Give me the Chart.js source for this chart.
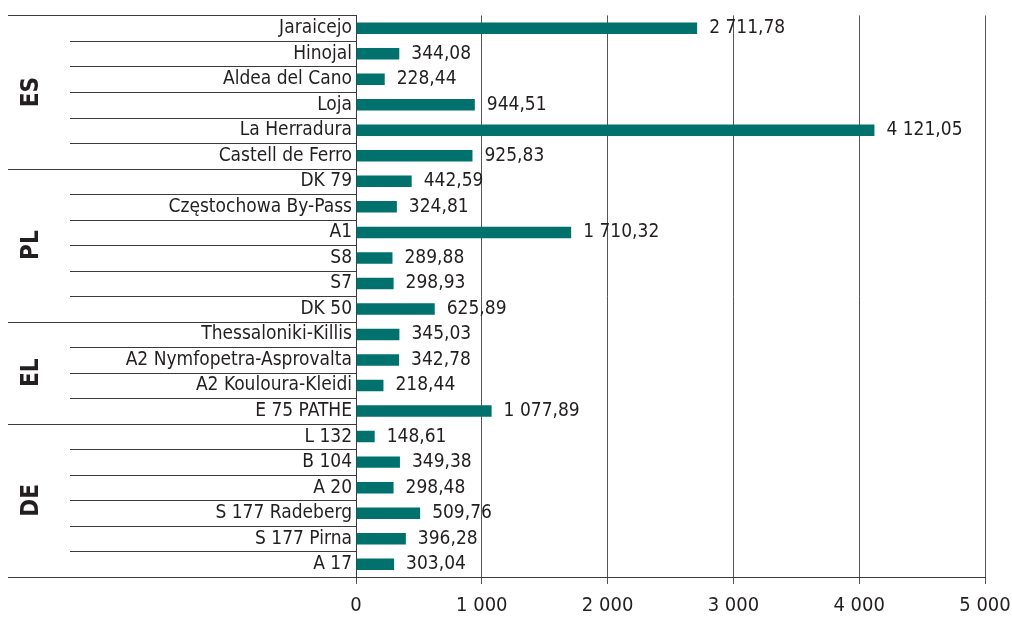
<!DOCTYPE html>
<html>
<head>
<meta charset="utf-8">
<script src="https://cdn.jsdelivr.net/npm/chart.js@4/dist/chart.umd.min.js"></script>
<style>
  html, body { margin: 0; padding: 0; background: #fff; }
  #wrap { width: 1012px; height: 617px; }
</style>
</head>
<body>
<div id="wrap"><canvas id="chart" width="1012" height="617"></canvas></div>
<script>
  // -- Data --
  var categories = [
    'Jaraicejo', 'Hinojal', 'Aldea del Cano', 'Loja', 'La Herradura', 'Castell de Ferro',
    'DK 79', 'Częstochowa By-Pass', 'A1', 'S8', 'S7', 'DK 50',
    'Thessaloniki-Killis', 'A2 Nymfopetra-Asprovalta', 'A2 Kouloura-Kleidi', 'E 75 PATHE',
    'L 132', 'B 104', 'A 20', 'S 177 Radeberg', 'S 177 Pirna', 'A 17'
  ];
  var values = [
    2711.78, 344.08, 228.44, 944.51, 4121.05, 925.83,
    442.59, 324.81, 1710.32, 289.88, 298.93, 625.89,
    345.03, 342.78, 218.44, 1077.89,
    148.61, 349.38, 298.48, 509.76, 396.28, 303.04
  ];
  var groupNames = ['ES', 'PL', 'EL', 'DE'];
  var groupSizes = [6, 6, 4, 6];
  var xTicks = [0, 1000, 2000, 3000, 4000, 5000];

  var FONT = "'Liberation Sans Narrow', 'DejaVu Sans Condensed', 'Roboto Condensed', sans-serif";
  var TEXT = '#231f20';
  var LINE = '#3a3a3a';
  var BAR = '#00716d';

  function fmt(v, dec) {
    var s = v.toFixed(dec);
    var parts = s.split('.');
    var intPart = parts[0].replace(/\B(?=(\d{3})+(?!\d))/g, ' ');
    return parts.length > 1 ? intPart + ',' + parts[1] : intPart;
  }

  // -- Separator lines + group labels in the label area --
  var groupPlugin = {
    id: 'groups',
    afterDraw: function (chart) {
      var ctx = chart.ctx;
      var y = chart.scales.y;
      var left = chart.chartArea.left;
      ctx.save();
      ctx.strokeStyle = LINE;
      ctx.lineWidth = 1;
      var idx = 0;
      for (var g = 0; g < groupSizes.length; g++) {
        var start = idx, end = idx + groupSizes[g] - 1;
        var top = y.getPixelForValue(start - 0.5);
        var bot = y.getPixelForValue(end + 0.5);
        // group border lines
        ctx.beginPath();
        ctx.moveTo(8, Math.round(top) + 0.5); ctx.lineTo(left, Math.round(top) + 0.5);
        ctx.moveTo(8, Math.round(bot) + 0.5); ctx.lineTo(left, Math.round(bot) + 0.5);
        ctx.stroke();
        // inner category lines
        for (var i = start; i < end; i++) {
          var py = Math.round(y.getPixelForValue(i + 0.5)) + 0.5;
          ctx.beginPath();
          ctx.moveTo(70, py); ctx.lineTo(left, py);
          ctx.stroke();
        }
        // rotated group label
        ctx.save();
        ctx.translate(32, (top + bot) / 2);
        ctx.rotate(-Math.PI / 2);
        ctx.fillStyle = TEXT;
        ctx.font = 'bold 24px ' + FONT;
        ctx.textAlign = 'center';
        ctx.textBaseline = 'middle';
        ctx.fillText(groupNames[g], 0, 0);
        ctx.restore();
        idx = end + 1;
      }
      ctx.restore();
    }
  };

  // -- Value labels at bar ends --
  var valueLabelPlugin = {
    id: 'valueLabels',
    afterDatasetsDraw: function (chart) {
      var ctx = chart.ctx;
      var meta = chart.getDatasetMeta(0);
      ctx.save();
      ctx.fillStyle = TEXT;
      ctx.font = '19px ' + FONT;
      ctx.textAlign = 'left';
      ctx.textBaseline = 'middle';
      meta.data.forEach(function (bar, i) {
        ctx.fillText(fmt(values[i], 2), bar.x + 12, bar.y);
      });
      ctx.restore();
    }
  };

  new Chart(document.getElementById('chart'), {
    type: 'bar',
    data: {
      labels: categories,
      datasets: [{
        data: values,
        backgroundColor: BAR,
        borderWidth: 0,
        barPercentage: 0.45,
        categoryPercentage: 1
      }]
    },
    options: {
      indexAxis: 'y',
      responsive: false,
      animation: false,
      layout: { padding: { top: 15, right: 27, left: 0, bottom: 0 } },
      plugins: {
        legend: { display: false },
        tooltip: { enabled: false }
      },
      scales: {
        x: {
          min: 0,
          max: 5000,
          afterBuildTicks: function (scale) {
            scale.ticks = xTicks.map(function (v) { return { value: v }; });
          },
          afterFit: function (scale) {
            scale.height = 40;
            scale.paddingLeft = 0;
            scale.paddingRight = 0;
          },
          grid: { color: '#555', lineWidth: 1, drawTicks: true, tickLength: 7 },
          border: { display: true, color: LINE, width: 1 },
          ticks: {
            color: TEXT,
            font: { family: FONT, size: 20 },
            padding: 10,
            maxRotation: 0,
            callback: function (v) { return fmt(v, 0); }
          }
        },
        y: {
          afterFit: function (scale) { scale.width = 356; },
          grid: { display: false, drawTicks: false },
          border: { display: true, color: LINE, width: 1 },
          ticks: {
            color: TEXT,
            font: { family: FONT, size: 19 },
            padding: 4,
            autoSkip: false
          }
        }
      }
    },
    plugins: [groupPlugin, valueLabelPlugin]
  });
</script>
</body>
</html>
